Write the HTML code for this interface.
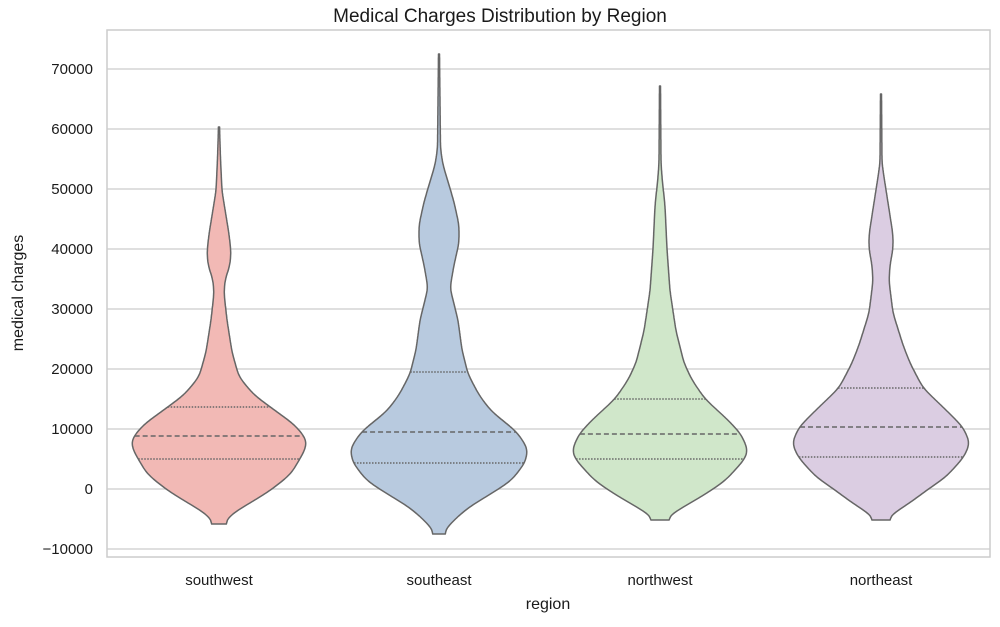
<!DOCTYPE html>
<html><head><meta charset="utf-8"><style>
body{margin:0;background:#fff;}
svg text{font-family:"Liberation Sans",Arial,sans-serif;fill:#1a1a1a;}
</style></head><body>
<svg id="s" width="1000" height="622" xmlns="http://www.w3.org/2000/svg">
<rect width="1000" height="622" fill="#fff"/>
<g id="grid" stroke="#cccccc" stroke-width="1.2"></g>
<g id="v"></g>
<rect x="107" y="30" width="883" height="527" fill="none" stroke="#cccccc" stroke-width="1.5"/>
<g id="yt" font-size="15" text-anchor="end"></g>
<g font-size="15" text-anchor="middle">
<text x="219" y="585">southwest</text>
<text x="439" y="585">southeast</text>
<text x="660" y="585">northwest</text>
<text x="881" y="585">northeast</text>
</g>
<text x="500" y="22" font-size="19" text-anchor="middle">Medical Charges Distribution by Region</text>
<text x="548" y="609" font-size="16" text-anchor="middle">region</text>
<text transform="translate(23,293) rotate(-90)" font-size="16" text-anchor="middle">medical charges</text>
</svg>
<script>
var NS="http://www.w3.org/2000/svg";
function el(t,a,p){var e=document.createElementNS(NS,t);for(var k in a)e.setAttribute(k,a[k]);p.appendChild(e);return e;}
var g=document.getElementById('grid'),yt=document.getElementById('yt');
for(var v=-10000;v<=70000;v+=10000){var y=489-v*0.006;
el('line',{x1:107,x2:990,y1:y,y2:y},g);
var t=el('text',{x:93,y:y+5},yt);t.textContent=(v<0?'\u221210000':String(v));}
var V=[
{c:219,f:'#f2b9b5',p:[[127,0.5],[159,1.5],[191,3],[234,10],[252,12],[265,11],[280,6],[293,5],[320,8],[352,13],[377,20],[395,35],[409,54],[425,76],[440,88],[450,86],[474,72],[490,52],[500,36],[513,14],[520,7],[524,5]],q:[407,436,459]},
{c:439,f:'#b8cadf',p:[[54,0.5],[149,1.5],[165,4],[185,10],[202,15],[225,20],[243,20],[265,15],[288,11],[320,19],[350,23],[374,29],[395,40],[411,52],[432,78],[449,89],[463,86],[481,72],[495,50],[507,30],[520,15],[530,6],[534,4]],q:[372,432,463]},
{c:660,f:'#d0e7ca',p:[[86,0.5],[163,1],[177,2],[206,5],[249,7],[291,10],[331,16],[363,24],[380,32],[399,45],[420,68],[434,81],[450,88],[459,85],[481,65],[495,44],[506,25],[515,10],[520,5]],q:[399,434,459]},
{c:881,f:'#dbcde2',p:[[94,0.5],[163,1],[177,3],[209,8],[235,12],[249,12],[265,9],[281,8],[313,12],[345,22],[363,29],[388,42],[410,65],[427,82],[443,89],[457,83],[477,65],[490,46],[502,30],[515,10],[520,5]],q:[388,427,457]}
];
function build(p){var y0=p[0][0],y1=p[p.length-1][0],a=[];
for(var y=y0;y<=y1;y+=1){var w=0;for(var i=0;i<p.length-1;i++){if(y>=p[i][0]&&y<=p[i+1][0]){var f=(y-p[i][0])/(p[i+1][0]-p[i][0]);w=p[i][1]+f*(p[i+1][1]-p[i][1]);break;}}a.push(w);}
for(var it=0;it<3;it++){var b=[];for(var i=0;i<a.length;i++){var s=0,n=0;for(var k=-4;k<=4;k++){var j=i+k;if(j>=0&&j<a.length){s+=a[j];n++;}}b.push(s/n);}a=b;}
var o=[];for(var i=0;i<a.length;i++)o.push([y0+i,Math.max(0.5,a[i])]);
o[o.length-1][1]=Math.max(o[o.length-1][1],4);return o;}
function wAt(o,y){var i=Math.round(y-o[0][0]);return o[Math.max(0,Math.min(o.length-1,i))][1];}
var vg=document.getElementById('v');
V.forEach(function(d){var o=build(d.p);var s='';
o.forEach(function(q,i){s+=(i?'L':'M')+(d.c+q[1]).toFixed(1)+','+q[0].toFixed(1);});
for(var i=o.length-1;i>=0;i--)s+='L'+(d.c-o[i][1]).toFixed(1)+','+o[i][0].toFixed(1);
s+='Z';
el('path',{d:s,fill:d.f,stroke:'#666','stroke-width':1.5,'stroke-linejoin':'round'},vg);
d.q.forEach(function(y,k){var w=wAt(o,y);
el('line',{x1:d.c-w,x2:d.c+w,y1:y,y2:y,stroke:'#666','stroke-width':1.5,'stroke-dasharray':k==1?'5,3':'1.5,1.5'},vg);});
});
</script>
</body></html>
